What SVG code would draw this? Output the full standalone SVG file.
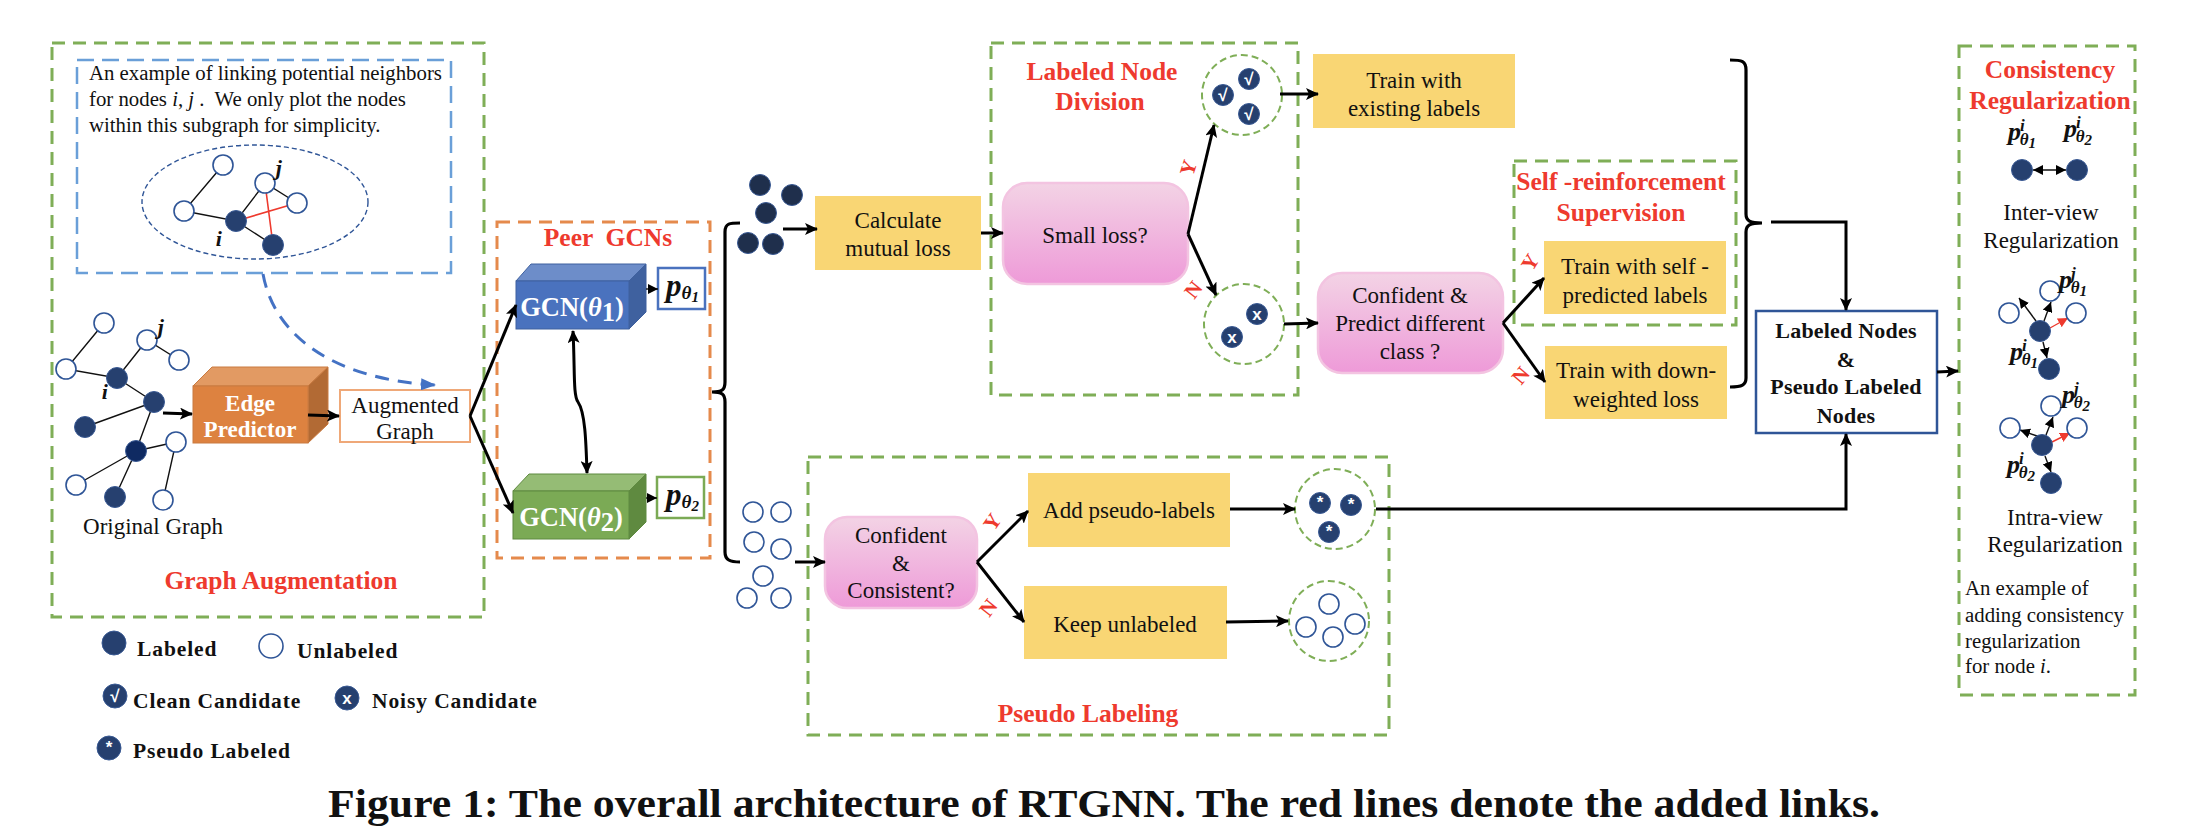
<svg xmlns="http://www.w3.org/2000/svg" width="2198" height="840" viewBox="0 0 2198 840">
<style>
text{font-family:"Liberation Serif","Times New Roman",serif;fill:#111;white-space:pre}
.t{font-size:23px;text-anchor:middle}
.n{font-size:20.8px}
.r{font-size:25.5px;font-weight:bold;fill:#EE3A2E;text-anchor:middle}
.yn{font-size:21px;font-weight:bold;fill:#EE3A2E;text-anchor:middle}
.w{font-size:23px;font-weight:bold;fill:#fff;text-anchor:middle}
.g{font-size:26.5px;font-weight:bold;fill:#fff;text-anchor:middle}
.b{font-size:22px;font-weight:bold;text-anchor:middle;letter-spacing:.2px}
.l{font-size:21.5px;font-weight:bold;letter-spacing:.9px}
.m{font-size:26px;font-weight:bold;font-style:italic}
.mb{font-size:31px;font-weight:bold;font-style:italic}
.s{font-size:17px;font-weight:bold;font-style:italic}
.sb{font-size:19px;font-weight:bold;font-style:italic}
.d{font-size:15px;font-weight:bold}
.k{font-family:"Liberation Sans",Arial,sans-serif;font-size:17px;font-weight:bold;fill:#fff;text-anchor:middle}
.gd{fill:none;stroke:#7FAE57;stroke-width:3;stroke-dasharray:13 8}
.gc{fill:none;stroke:#7FAE57;stroke-width:2;stroke-dasharray:7 4}
.f{fill:#26406F;stroke:#3A5A94;stroke-width:1}
.u{fill:#fff;stroke:#2F5597;stroke-width:1.6}
.y{fill:#F9D674}
.p{fill:url(#pk);stroke:#F3C4E1;stroke-width:2.5}
.e{stroke:#111;stroke-width:1.4;fill:none}
.a{stroke:#000;stroke-width:3;fill:none;marker-end:url(#ar)}
.a1{stroke:#111;stroke-width:1.4;fill:none;marker-end:url(#as)}
.br{stroke:#000;stroke-width:3.2;fill:none}
.rd{stroke:#EE3A2E;stroke-width:1.6;fill:none}
</style>
<defs>
<linearGradient id="pk" x1="0" y1="0" x2="0" y2="1"><stop offset="0" stop-color="#F3D3E5"/><stop offset="1" stop-color="#EE9AD8"/></linearGradient>
<marker id="ar" markerUnits="userSpaceOnUse" markerWidth="14" markerHeight="12" refX="12" refY="6" orient="auto"><path d="M0 0L13 6L0 12L3 6Z" fill="#000"/></marker>
<marker id="arb" markerUnits="userSpaceOnUse" markerWidth="14" markerHeight="12" refX="12" refY="6" orient="auto-start-reverse"><path d="M0 0L13 6L0 12L3 6Z" fill="#000"/></marker>
<marker id="as" markerUnits="userSpaceOnUse" markerWidth="11" markerHeight="10" refX="10" refY="5" orient="auto-start-reverse"><path d="M0 0L10 5L0 10Z" fill="#000"/></marker>
<marker id="asr" markerUnits="userSpaceOnUse" markerWidth="11" markerHeight="10" refX="10" refY="5" orient="auto"><path d="M0 0L10 5L0 10Z" fill="#EE3A2E"/></marker>
<marker id="abl" markerUnits="userSpaceOnUse" markerWidth="16" markerHeight="12" refX="14" refY="6" orient="auto"><path d="M0 0L15 6L0 12Z" fill="#4472C4"/></marker>
</defs>
<rect width="2198" height="840" fill="#fff"/>

<g id="graph-augmentation">
<rect class="gd" x="52" y="43" width="432" height="574"/>
<text class="r" x="281" y="589">Graph Augmentation</text>
</g>
<g id="subgraph-example">
<rect x="77" y="60" width="374" height="213" fill="none" stroke="#6A9FD8" stroke-width="2.5" stroke-dasharray="17 8"/>
<text class="n" x="89" y="80">An example of linking potential neighbors</text>
<text class="n" x="89" y="106">for nodes <tspan font-style="italic">i</tspan>, <tspan font-style="italic">j</tspan> .  We only plot the nodes</text>
<text class="n" x="89" y="132">within this subgraph for simplicity.</text>
<ellipse cx="255" cy="202" rx="113" ry="57" fill="none" stroke="#2F5597" stroke-width="1.4" stroke-dasharray="5 3"/>
<path class="e" d="M223 165L184 211L236 221L265 183L297 203M236 221L273 245"/>
<path class="rd" d="M236 221L297 203M265 183L273 245"/>
<circle class="u" cx="223" cy="165" r="10"/><circle class="u" cx="184" cy="211" r="10"/><circle class="u" cx="265" cy="183" r="10"/><circle class="u" cx="297" cy="203" r="10"/>
<circle class="f" cx="236" cy="221" r="10.5"/><circle class="f" cx="273" cy="245" r="10.5"/>
<text class="b" font-style="italic" x="279" y="175">j</text><text class="b" font-style="italic" x="219" y="246">i</text>
</g>
<g id="original-graph">
<path class="e" d="M104 323L66 369L117 378L147 340L179 360M117 378L154 402L85 427M154 402L136 451L176 442L163 500M136 451L76 485M136 451L115 497"/>
<circle class="u" cx="104" cy="323" r="10"/><circle class="u" cx="66" cy="369" r="10"/><circle class="u" cx="147" cy="340" r="10"/><circle class="u" cx="179" cy="360" r="10"/><circle class="u" cx="176" cy="442" r="10"/><circle class="u" cx="76" cy="485" r="10"/><circle class="u" cx="163" cy="500" r="10"/>
<circle class="f" cx="117" cy="378" r="10.5"/><circle class="f" cx="154" cy="402" r="10.5"/><circle class="f" cx="85" cy="427" r="10.5"/><circle class="f" cx="136" cy="451" r="10.5" style="fill:#0F2A62"/><circle class="f" cx="115" cy="497" r="10.5"/>
<text class="b" font-style="italic" x="161" y="334">j</text><text class="b" font-style="italic" x="105" y="399">i</text>
<text class="t" x="153" y="534">Original Graph</text>
</g>
<g id="edge-predictor">
<path d="M193 386L212 367H328L308 386Z" fill="#E29A63" stroke="#C97A40"/>
<path d="M308 386L328 367V424L308 443Z" fill="#B26A34" stroke="#C97A40"/>
<rect x="193" y="386" width="115" height="57" fill="#DD8240" stroke="#C97A40"/>
<text class="w" x="250" y="411">Edge</text><text class="w" x="250" y="437">Predictor</text>
</g>
<g id="augmented-graph">
<rect x="340" y="390" width="130" height="52" fill="#fff" stroke="#EFA878" stroke-width="2"/>
<text class="t" x="405" y="413">Augmented</text><text class="t" x="405" y="439">Graph</text>
</g>

<g id="peer-gcns">
<rect x="497" y="222" width="213" height="336" fill="none" stroke="#E58A4C" stroke-width="3" stroke-dasharray="13 8"/>
<text class="r" x="608" y="246">Peer  GCNs</text>
</g>
<g id="gcn1">
<path d="M516 281L531 264H646L629 281Z" fill="#6D8DC9" stroke="#3F619F"/>
<path d="M629 281L646 264V312L629 329Z" fill="#3F619F" stroke="#3F619F"/>
<rect x="516" y="281" width="113" height="48" fill="#4A72BE" stroke="#3F619F"/>
<text class="g" x="572" y="316">GCN(<tspan font-style="italic">θ</tspan><tspan dy="5">1</tspan><tspan dy="-5">)</tspan></text>
</g>
<g id="p1">
<rect x="658" y="268" width="47" height="41" fill="#fff" stroke="#4A72BE" stroke-width="2.5"/>
<text class="mb" x="666" y="296">p<tspan class="sb" dy="3">θ</tspan><tspan class="d" dy="3">1</tspan></text>
</g>
<g id="gcn2">
<path d="M513 491L529 474H646L629 491Z" fill="#95BC75" stroke="#5F8A40"/>
<path d="M629 491L646 474V522L629 539Z" fill="#5F8A40" stroke="#5F8A40"/>
<rect x="513" y="491" width="116" height="48" fill="#7BAA55" stroke="#5F8A40"/>
<text class="g" x="571" y="526">GCN(<tspan font-style="italic">θ</tspan><tspan dy="5">2</tspan><tspan dy="-5">)</tspan></text>
</g>
<g id="p2">
<rect x="657" y="477" width="47" height="41" fill="#fff" stroke="#7BAA55" stroke-width="2.5"/>
<text class="mb" x="666" y="505">p<tspan class="sb" dy="3">θ</tspan><tspan class="d" dy="3">2</tspan></text>
</g>

<g id="all-nodes">
<circle class="f" cx="760" cy="185" r="10.5" style="fill:#1F2F4C"/><circle class="f" cx="792" cy="195" r="10.5" style="fill:#1F2F4C"/><circle class="f" cx="766" cy="213" r="10.5" style="fill:#1F2F4C"/><circle class="f" cx="748" cy="243" r="10.5" style="fill:#1F2F4C"/><circle class="f" cx="773" cy="244" r="10.5" style="fill:#1F2F4C"/>
</g>
<g id="calculate-mutual-loss">
<rect class="y" x="815" y="196" width="166" height="74"/>
<text class="t" x="898" y="228">Calculate</text><text class="t" x="898" y="256">mutual loss</text>
</g>
<g id="labeled-node-division">
<rect class="gd" x="991" y="43" width="307" height="352"/>
<text class="r" x="1102" y="80">Labeled Node</text><text class="r" x="1100" y="110">Division</text>
</g>
<g id="small-loss">
<rect class="p" x="1003" y="183" width="185" height="101" rx="24"/>
<text class="t" x="1095" y="243">Small loss?</text>
</g>
<g id="clean-set">
<circle class="gc" cx="1242" cy="95" r="40"/>
<circle class="f" cx="1249" cy="79" r="10.5"/><circle class="f" cx="1223" cy="95" r="10.5"/><circle class="f" cx="1249" cy="114" r="10.5"/>
<text class="k" x="1249" y="85">√</text><text class="k" x="1223" y="101">√</text><text class="k" x="1249" y="120">√</text>
</g>
<g id="noisy-set">
<circle class="gc" cx="1244" cy="324" r="40"/>
<circle class="f" cx="1257" cy="314" r="10.5"/><circle class="f" cx="1232" cy="337" r="10.5"/>
<text class="k" x="1257" y="320">x</text><text class="k" x="1232" y="343">x</text>
</g>
<g id="train-existing">
<rect class="y" x="1313" y="54" width="202" height="74"/>
<text class="t" x="1414" y="88">Train with</text><text class="t" x="1414" y="116">existing labels</text>
</g>
<g id="confident-predict">
<rect class="p" x="1318" y="273" width="185" height="100" rx="24"/>
<text class="t" x="1410" y="303">Confident &amp;</text><text class="t" x="1410" y="331">Predict different</text><text class="t" x="1410" y="359">class ?</text>
</g>
<g id="self-reinforcement">
<rect class="gd" x="1514" y="161" width="222" height="164"/>
<text class="r" x="1621" y="190">Self -reinforcement</text><text class="r" x="1621" y="221">Supervision</text>
</g>
<g id="train-self">
<rect class="y" x="1544" y="241" width="182" height="73"/>
<text class="t" x="1635" y="274">Train with self -</text><text class="t" x="1635" y="303">predicted labels</text>
</g>
<g id="train-down">
<rect class="y" x="1545" y="346" width="182" height="73"/>
<text class="t" x="1636" y="378">Train with down-</text><text class="t" x="1636" y="407">weighted loss</text>
</g>
<g id="labeled-and-pseudo">
<rect x="1756" y="311" width="181" height="122" fill="#fff" stroke="#2F5597" stroke-width="2.5"/>
<text class="b" x="1846" y="338">Labeled Nodes</text><text class="b" x="1846" y="367">&amp;</text><text class="b" x="1846" y="394">Pseudo Labeled</text><text class="b" x="1846" y="423">Nodes</text>
</g>

<g id="unlabeled-nodes">
<circle class="u" cx="753" cy="512" r="10"/><circle class="u" cx="781" cy="512" r="10"/><circle class="u" cx="754" cy="542" r="10"/><circle class="u" cx="781" cy="549" r="10"/><circle class="u" cx="763" cy="576" r="10"/><circle class="u" cx="747" cy="598" r="10"/><circle class="u" cx="781" cy="598" r="10"/>
</g>
<g id="pseudo-labeling">
<rect class="gd" x="808" y="457" width="581" height="278"/>
<text class="r" x="1088" y="722">Pseudo Labeling</text>
</g>
<g id="confident-consistent">
<rect class="p" x="825" y="517" width="152" height="91" rx="22"/>
<text class="t" x="901" y="543">Confident</text><text class="t" x="901" y="571">&amp;</text><text class="t" x="901" y="598">Consistent?</text>
</g>
<g id="add-pseudo">
<rect class="y" x="1028" y="473" width="202" height="74"/>
<text class="t" x="1129" y="518">Add pseudo-labels</text>
</g>
<g id="keep-unlabeled">
<rect class="y" x="1024" y="586" width="203" height="73"/>
<text class="t" x="1125" y="632">Keep unlabeled</text>
</g>
<g id="pseudo-set">
<circle class="gc" cx="1335" cy="509" r="40"/>
<circle class="f" cx="1320" cy="503" r="10.5"/><circle class="f" cx="1351" cy="505" r="10.5"/><circle class="f" cx="1329" cy="532" r="10.5"/>
<text class="k" x="1320" y="508">*</text><text class="k" x="1351" y="510">*</text><text class="k" x="1329" y="537">*</text>
</g>
<g id="unlabeled-set">
<circle class="gc" cx="1329" cy="621" r="40"/>
<circle class="u" cx="1329" cy="604" r="10"/><circle class="u" cx="1306" cy="627" r="10"/><circle class="u" cx="1355" cy="624" r="10"/><circle class="u" cx="1333" cy="637" r="10"/>
</g>

<g id="consistency-regularization">
<rect class="gd" x="1959" y="46" width="176" height="649"/>
<text class="r" x="2050" y="78">Consistency</text><text class="r" x="2050" y="109">Regularization</text>
<text class="t" x="2051" y="220">Inter-view</text><text class="t" x="2051" y="248">Regularization</text>
<text class="t" x="2055" y="525">Intra-view</text><text class="t" x="2055" y="552">Regularization</text>
<text class="n" x="1965" y="595">An example of</text><text class="n" x="1965" y="622">adding consistency</text><text class="n" x="1965" y="648">regularization</text><text class="n" x="1965" y="673">for node <tspan font-style="italic">i</tspan>.</text>
</g>
<g id="inter-view">
<circle class="f" cx="2022" cy="170" r="10.5"/><circle class="f" cx="2077" cy="170" r="10.5"/>
<path stroke="#111" stroke-width="1.4" fill="none" marker-start="url(#as)" marker-end="url(#as)" d="M2033 170H2066"/>
<text class="m" x="2008" y="140">p<tspan class="s" dy="-9" dx="-1">i</tspan><tspan class="s" dy="14" dx="-5">θ</tspan><tspan class="d" dy="3">1</tspan></text>
<text class="m" x="2064" y="137">p<tspan class="s" dy="-9" dx="-1">i</tspan><tspan class="s" dy="14" dx="-5">θ</tspan><tspan class="d" dy="3">2</tspan></text>
</g>
<g id="intra-view-1">
<path class="a1" d="M2036 321L2019 298"/><path class="a1" d="M2044 321L2051 302"/><path class="a1" d="M2043 342L2047 358"/>
<path d="M2050 328L2068 318" stroke="#EE3A2E" stroke-width="1.4" fill="none" marker-end="url(#asr)"/>
<circle class="u" cx="2009" cy="313" r="10"/><circle class="u" cx="2050" cy="291" r="10"/><circle class="u" cx="2076" cy="313" r="10"/>
<circle class="f" cx="2040" cy="331" r="10.5"/><circle class="f" cx="2049" cy="369" r="10.5"/>
<text class="m" x="2059" y="288">p<tspan class="s" dy="-9" dx="-1">j</tspan><tspan class="s" dy="14" dx="-5">θ</tspan><tspan class="d" dy="3">1</tspan></text>
<text class="m" x="2010" y="360">p<tspan class="s" dy="-9" dx="-1">i</tspan><tspan class="s" dy="14" dx="-5">θ</tspan><tspan class="d" dy="3">1</tspan></text>
</g>
<g id="intra-view-2">
<path class="a1" d="M2037 436L2020 430"/><path class="a1" d="M2046 435L2053 417"/><path class="a1" d="M2045 456L2051 472"/>
<path d="M2052 442L2070 433" stroke="#EE3A2E" stroke-width="1.4" fill="none" marker-end="url(#asr)"/>
<circle class="u" cx="2010" cy="428" r="10"/><circle class="u" cx="2051" cy="406" r="10"/><circle class="u" cx="2077" cy="428" r="10"/>
<circle class="f" cx="2042" cy="445" r="10.5"/><circle class="f" cx="2051" cy="483" r="10.5"/>
<text class="m" x="2062" y="403">p<tspan class="s" dy="-9" dx="-1">j</tspan><tspan class="s" dy="14" dx="-5">θ</tspan><tspan class="d" dy="3">2</tspan></text>
<text class="m" x="2007" y="473">p<tspan class="s" dy="-9" dx="-1">i</tspan><tspan class="s" dy="14" dx="-5">θ</tspan><tspan class="d" dy="3">2</tspan></text>
</g>

<g id="legend">
<circle class="f" cx="114" cy="643" r="12"/><text class="l" x="137" y="656">Labeled</text>
<circle class="u" cx="271" cy="646" r="12"/><text class="l" x="297" y="658">Unlabeled</text>
<circle class="f" cx="115" cy="696" r="12"/><text class="k" x="115" y="702">√</text><text class="l" x="133" y="708">Clean Candidate</text>
<circle class="f" cx="347" cy="698" r="12"/><text class="k" x="347" y="704">x</text><text class="l" x="372" y="708">Noisy Candidate</text>
<circle class="f" cx="109" cy="748" r="12"/><text class="k" x="109" y="753">*</text><text class="l" x="133" y="758">Pseudo Labeled</text>
</g>

<g id="connectors">
<path class="a" d="M163 413L192 414"/>
<path class="a" d="M308 415L339 416"/>
<path d="M263 274C275 340 340 380 435 385" fill="none" stroke="#4472C4" stroke-width="3" stroke-dasharray="14 9" marker-end="url(#abl)"/>
<path class="a" d="M470 416L516 305"/>
<path class="a" d="M470 416L513 513"/>
<path class="a1" d="M646 289H658"/>
<path class="a1" d="M646 498H657"/>
<path d="M573 331C575 370 573 395 578 402C585 412 586 440 587 473" stroke="#000" stroke-width="3" fill="none" marker-start="url(#arb)" marker-end="url(#arb)"/>
<path class="br" d="M740 223C730 223 725 223 725 232V382C725 390 722 392 712 392C722 392 725 394 725 402V552C725 560 730 562 740 562"/>
<path class="a" d="M783 229H817"/>
<path class="a" d="M981 233H1003"/>
<path class="a" d="M1188 234L1214 125"/>
<path class="a" d="M1188 234L1216 295"/>
<path class="a" d="M1280 94H1318"/>
<path class="a" d="M1284 324L1318 323"/>
<path class="a" d="M1503 323L1544 278"/>
<path class="a" d="M1503 323L1545 382"/>
<path class="br" d="M1730 60C1742 60 1746 61 1746 70V214C1746 221 1750 223 1762 223C1750 223 1746 225 1746 232V378C1746 385 1742 387 1730 387"/>
<path class="a" d="M1771 222H1846V310"/>
<path class="a" d="M1937 372L1958 371"/>
<path class="a" d="M795 562H825"/>
<path class="a" d="M977 562L1028 511"/>
<path class="a" d="M977 562L1024 622"/>
<path class="a" d="M1230 509H1295"/>
<path class="a" d="M1226 622L1288 621"/>
<path class="a" d="M1376 509H1846V434"/>
</g>
<g id="branch-labels">
<text class="yn" transform="translate(1195,170) rotate(-72)">Y</text>
<text class="yn" transform="translate(1199,294) rotate(-52)">N</text>
<text class="yn" transform="translate(1536,266) rotate(-58)">Y</text>
<text class="yn" transform="translate(1526,380) rotate(-50)">N</text>
<text class="yn" transform="translate(998,526) rotate(-55)">Y</text>
<text class="yn" transform="translate(994,612) rotate(-52)">N</text>
</g>
<text id="caption" x="328" y="817" font-size="40" font-weight="bold" textLength="1552" lengthAdjust="spacingAndGlyphs">Figure 1: The overall architecture of RTGNN. The red lines denote the added links.</text>
</svg>
